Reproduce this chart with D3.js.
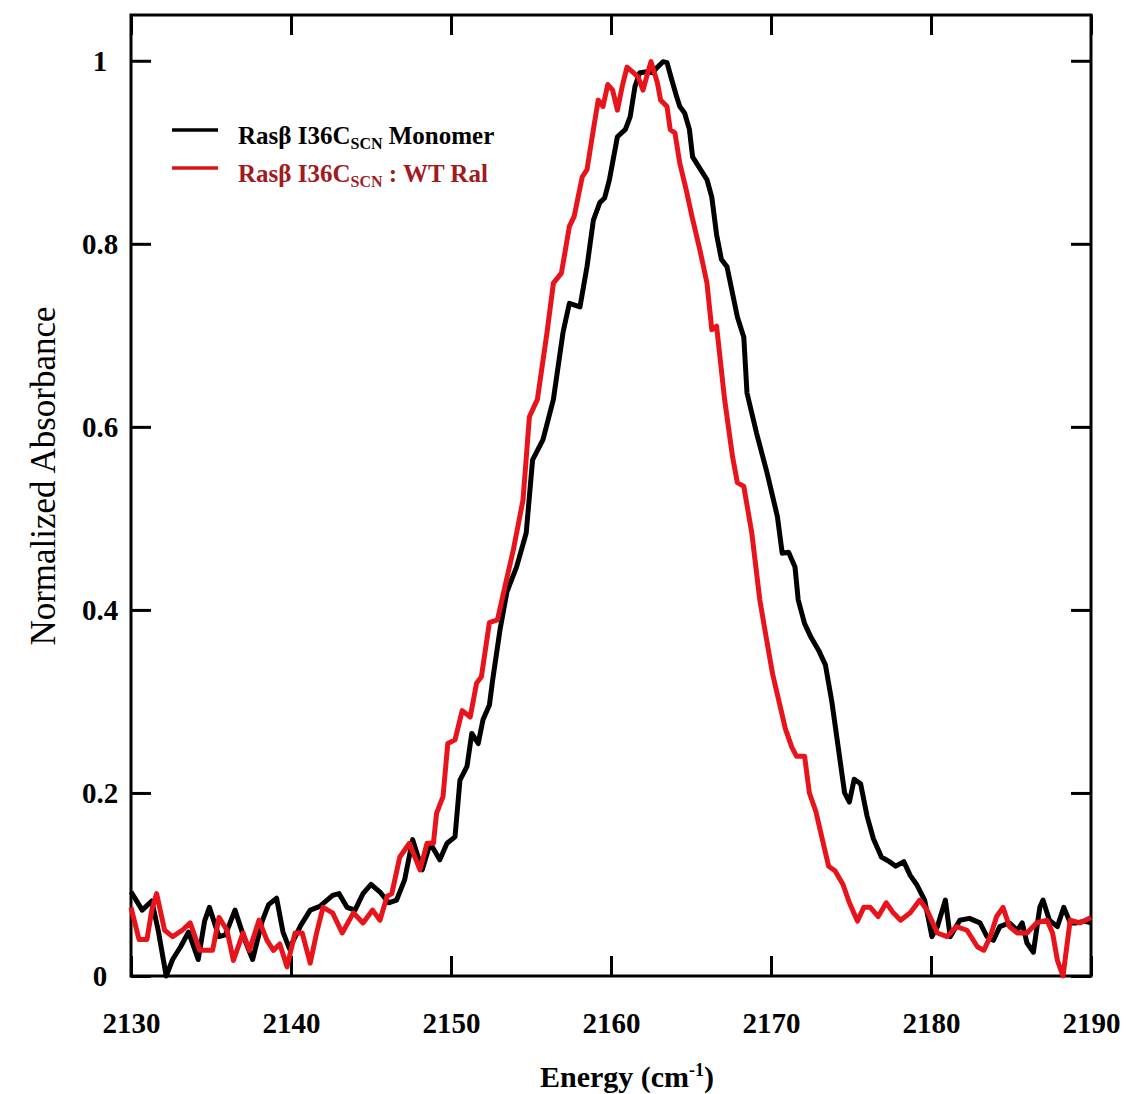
<!DOCTYPE html>
<html lang="en">
<head>
  <meta charset="UTF-8">
  <title>Normalized Absorbance vs Energy</title>
  <script src="https://d3js.org/d3.v7.min.js"></script>
  <style>
    body { margin: 0; background: #fff; }
    svg text { font-family: "Liberation Serif", "Times New Roman", serif; }
    .axis path { display: none; }
    .axis line { stroke: #000; stroke-width: 3px; }
    .axis text { font-size: 29px; font-weight: bold; fill: #000; }
    .curve { fill: none; stroke-width: 5px; stroke-linejoin: round; }
  </style>
</head>
<body>
<div id="chart"></div>
<script>
  // ------------------------ Data ------------------------

  const xTicks = [2130, 2140, 2150, 2160, 2170, 2180, 2190];
  const yTicks = [0, 0.2, 0.4, 0.6, 0.8, 1];
  const yTickLabels = ["0", "0.2", "0.4", "0.6", "0.8", "1"];

  // Rasβ I36C(SCN) Monomer
  const monomerEnergy = [
    2130.0, 2130.7, 2131.3, 2131.7, 2132.2, 2132.6, 2133.1, 2133.6, 2134.2, 2134.6,
    2134.9, 2135.5, 2135.9, 2136.5, 2137.1, 2137.6, 2138.2, 2138.6, 2139.1, 2139.5,
    2139.9, 2140.6, 2141.2, 2141.8, 2142.6, 2143.0, 2143.5, 2144.0, 2144.5, 2145.0,
    2145.6, 2146.1, 2146.6, 2147.1, 2147.6, 2148.2, 2148.7, 2149.3, 2149.75, 2150.25,
    2150.56, 2151.0, 2151.3, 2151.7, 2152.0, 2152.4, 2152.6, 2153.06, 2153.5, 2154.1,
    2154.7, 2155.1, 2155.75, 2156.4, 2157.0, 2157.4, 2158.06, 2158.5, 2158.9, 2159.3,
    2159.6, 2159.9, 2160.4, 2160.9, 2161.2, 2161.5, 2161.8, 2162.25, 2162.6, 2162.9,
    2163.25, 2163.5, 2163.8, 2164.1, 2164.3, 2164.6, 2164.9, 2165.1, 2165.6, 2166.0,
    2166.3, 2166.6, 2166.9, 2167.25, 2167.9, 2168.3, 2168.5, 2169.1, 2169.75, 2170.4,
    2170.7, 2171.1, 2171.5, 2171.7, 2172.1, 2172.5, 2173.0, 2173.4, 2173.8, 2174.2,
    2174.6, 2174.9, 2175.2, 2175.6, 2176.0, 2176.4, 2176.9, 2177.4, 2177.8, 2178.3,
    2178.7, 2179.1, 2179.6, 2180.06, 2180.4, 2180.9, 2181.2, 2181.8, 2182.4, 2183.06,
    2183.5, 2183.9, 2184.3, 2184.9, 2185.4, 2185.7, 2186.0, 2186.4, 2186.8, 2187.0,
    2187.4, 2187.9, 2188.3, 2188.7, 2189.1, 2189.6, 2190.0
  ];
  const monomerAbs = [
    0.092, 0.072, 0.082, 0.05, 0.0, 0.018, 0.032, 0.048, 0.018, 0.06,
    0.075, 0.043, 0.045, 0.072, 0.04, 0.018, 0.06, 0.078, 0.085, 0.048,
    0.03, 0.055, 0.072, 0.076, 0.088, 0.09, 0.075, 0.072, 0.09, 0.1,
    0.091, 0.08, 0.083, 0.105, 0.149, 0.116, 0.145, 0.127, 0.145, 0.152,
    0.214, 0.229, 0.265, 0.254, 0.28, 0.296, 0.323, 0.378, 0.42, 0.447,
    0.484, 0.564, 0.586, 0.63, 0.703, 0.735, 0.731, 0.775, 0.826, 0.845,
    0.85, 0.87, 0.917, 0.925, 0.939, 0.972, 0.987, 0.988, 0.987, 0.993,
    0.999, 0.998, 0.979, 0.961, 0.95, 0.943, 0.925, 0.895, 0.881, 0.87,
    0.851, 0.81, 0.783, 0.775, 0.72, 0.698, 0.637, 0.593, 0.55, 0.502,
    0.462, 0.463, 0.447, 0.411, 0.385, 0.37, 0.355, 0.34, 0.3, 0.25,
    0.2, 0.19, 0.215, 0.21, 0.175, 0.15, 0.13, 0.125, 0.12, 0.125,
    0.11, 0.1, 0.083, 0.043, 0.054, 0.083, 0.043, 0.061, 0.063, 0.058,
    0.043, 0.039, 0.054, 0.058, 0.05, 0.058, 0.036, 0.026, 0.075, 0.083,
    0.061, 0.054, 0.075, 0.058, 0.058, 0.06, 0.058
  ];

  // Rasβ I36C(SCN) : WT Ral
  const complexEnergy = [
    2130.0, 2130.5, 2131.0, 2131.3, 2131.6, 2132.1, 2132.6, 2133.2, 2133.7, 2134.3,
    2135.1, 2135.5, 2136.0, 2136.4, 2137.0, 2137.4, 2138.0, 2138.5, 2138.9, 2139.3,
    2139.75, 2140.25, 2140.7, 2141.2, 2141.6, 2142.0, 2142.6, 2143.2, 2143.9, 2144.5,
    2145.1, 2145.56, 2146.0, 2146.3, 2146.8, 2147.4, 2148.06, 2148.5, 2148.9, 2149.1,
    2149.5, 2149.8, 2150.25, 2150.7, 2151.2, 2151.6, 2151.9, 2152.4, 2152.9, 2153.3,
    2153.9, 2154.5, 2154.9, 2155.4, 2156.0, 2156.4, 2156.9, 2157.4, 2157.7, 2158.2,
    2158.5, 2158.9, 2159.2, 2159.5, 2159.8, 2160.1, 2160.4, 2160.7, 2161.0, 2161.4,
    2161.7, 2162.0, 2162.3, 2162.5, 2162.9, 2163.1, 2163.5, 2163.7, 2164.0, 2164.3,
    2164.7, 2165.06, 2165.56, 2166.0, 2166.3, 2166.6, 2167.1, 2167.6, 2167.9, 2168.3,
    2168.8, 2169.3, 2169.7, 2170.1, 2170.5, 2170.9, 2171.3, 2171.6, 2172.1, 2172.4,
    2172.8, 2173.2, 2173.6, 2174.0, 2174.5, 2174.9, 2175.4, 2175.8, 2176.2, 2176.7,
    2177.2, 2177.6, 2178.1, 2178.7, 2179.3, 2179.75, 2180.4, 2181.0, 2181.6, 2182.25,
    2182.9, 2183.3, 2183.7, 2184.1, 2184.5, 2184.9, 2185.4, 2186.0, 2186.6, 2187.25,
    2187.6, 2187.9, 2188.25, 2188.7, 2189.3, 2190.0
  ];
  const complexAbs = [
    0.075, 0.04, 0.04, 0.072, 0.09, 0.05, 0.043, 0.05, 0.058, 0.028,
    0.028, 0.064, 0.05, 0.017, 0.047, 0.028, 0.061, 0.039, 0.028, 0.035,
    0.01, 0.047, 0.047, 0.014, 0.047, 0.075, 0.069, 0.047, 0.069, 0.058,
    0.072, 0.061, 0.087, 0.09, 0.13, 0.145, 0.116, 0.145, 0.145, 0.178,
    0.196, 0.254, 0.258, 0.29, 0.283, 0.32, 0.327, 0.386, 0.389, 0.42,
    0.466, 0.52, 0.611, 0.63, 0.703, 0.757, 0.768, 0.819, 0.83, 0.873,
    0.881, 0.925, 0.957, 0.95, 0.974, 0.968, 0.946, 0.972, 0.993, 0.987,
    0.982, 0.968, 0.987, 0.999, 0.976, 0.957, 0.95, 0.925, 0.921, 0.888,
    0.859, 0.83, 0.793, 0.757, 0.706, 0.71, 0.63, 0.567, 0.539, 0.535,
    0.484, 0.411, 0.37, 0.33, 0.3, 0.27, 0.25, 0.24, 0.24, 0.2,
    0.18, 0.15, 0.12, 0.115, 0.1, 0.08, 0.06, 0.075, 0.075, 0.065,
    0.08, 0.07, 0.061, 0.069, 0.083, 0.072, 0.047, 0.043, 0.054, 0.05,
    0.032, 0.028, 0.043, 0.065, 0.075, 0.054, 0.047, 0.047, 0.058, 0.061,
    0.047, 0.017, 0.0, 0.061, 0.058, 0.064
  ];

  // ------------------------ Setup ------------------------

  const W = 1126, H = 1094;
  const plot = { left: 131, right: 1091, top: 15, bottom: 976 };

  const svg = d3.select("#chart").append("svg")
    .attr("width", W)
    .attr("height", H);

  const x = d3.scaleLinear().domain([2130, 2190]).range([plot.left, plot.right]);
  const y = d3.scaleLinear().domain([0, 1.05]).range([plot.bottom, plot.top]);

  // ------------------------ Axes ------------------------

  svg.append("g")
    .attr("class", "axis")
    .attr("transform", `translate(0,${plot.bottom})`)
    .call(d3.axisBottom(x).tickValues(xTicks).tickSizeInner(-20).tickSizeOuter(0)
      .tickPadding(36).tickFormat(d3.format("d")));

  svg.append("g")
    .attr("class", "axis")
    .attr("transform", `translate(0,${plot.top})`)
    .call(d3.axisTop(x).tickValues(xTicks).tickSizeInner(-20).tickSizeOuter(0).tickFormat(""));

  const yAxis = svg.append("g")
    .attr("class", "axis")
    .attr("transform", `translate(${plot.left},0)`)
    .call(d3.axisLeft(y).tickValues(yTicks).tickSizeInner(-20).tickSizeOuter(0)
      .tickPadding(31).tickFormat((d, i) => yTickLabels[i]));
  yAxis.selectAll("text").attr("text-anchor", "middle");

  svg.append("g")
    .attr("class", "axis")
    .attr("transform", `translate(${plot.right},0)`)
    .call(d3.axisRight(y).tickValues(yTicks).tickSizeInner(-20).tickSizeOuter(0).tickFormat(""));

  // frame
  svg.append("rect")
    .attr("x", plot.left)
    .attr("y", plot.top)
    .attr("width", plot.right - plot.left)
    .attr("height", plot.bottom - plot.top)
    .attr("fill", "none")
    .attr("stroke", "#000")
    .attr("stroke-width", 3);

  // ------------------------ Curves ------------------------

  const line = d3.line().x(d => x(d[0])).y(d => y(d[1]));

  svg.append("path")
    .attr("class", "curve")
    .attr("stroke", "#000")
    .attr("d", line(d3.zip(monomerEnergy, monomerAbs)));

  svg.append("path")
    .attr("class", "curve")
    .attr("stroke", "#e8141c")
    .attr("d", line(d3.zip(complexEnergy, complexAbs)));

  // ------------------------ Titles ------------------------

  const xTitle = svg.append("text")
    .attr("x", 627)
    .attr("y", 1087)
    .attr("text-anchor", "middle")
    .attr("font-size", 30)
    .attr("font-weight", "bold");
  xTitle.append("tspan").text("Energy (cm");
  xTitle.append("tspan").attr("font-size", 18).attr("dy", -11).text("-1");
  xTitle.append("tspan").attr("dy", 11).text(")");

  svg.append("text")
    .attr("transform", "translate(55,476) rotate(-90)")
    .attr("text-anchor", "middle")
    .attr("font-size", 35)
    .text("Normalized Absorbance");

  // ------------------------ Legend ------------------------

  const legendItems = [
    { stroke: "#000", textColor: "#000", suffix: " Monomer" },
    { stroke: "#d81418", textColor: "#a01a1e", suffix: " : WT Ral" }
  ];

  const legend = svg.append("g");
  legendItems.forEach((item, i) => {
    const ly = 130 + i * 38;
    legend.append("line")
      .attr("x1", 172).attr("x2", 218)
      .attr("y1", ly).attr("y2", ly)
      .attr("stroke", item.stroke)
      .attr("stroke-width", 3.5);
    const t = legend.append("text")
      .attr("x", 238)
      .attr("y", ly + 14)
      .attr("font-size", 25)
      .attr("font-weight", "bold")
      .attr("fill", item.textColor);
    t.append("tspan").text("Rasβ I36C");
    t.append("tspan").attr("font-size", 16).attr("dy", 5).text("SCN");
    t.append("tspan").attr("dy", -5).text(item.suffix);
  });
</script>
</body>
</html>
